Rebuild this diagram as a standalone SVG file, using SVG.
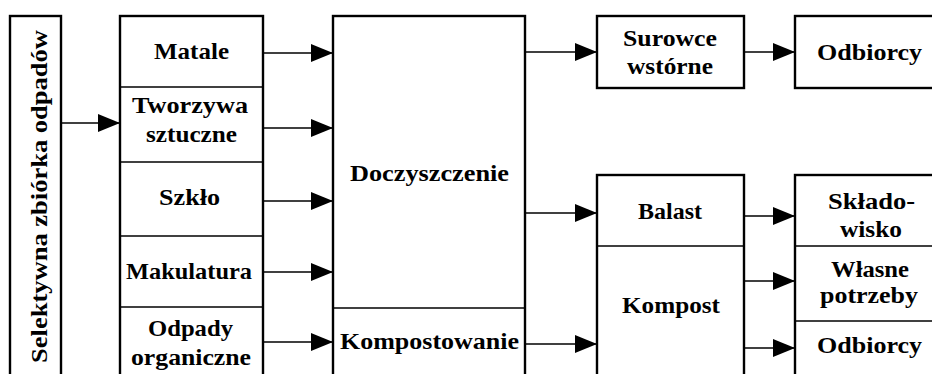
<svg xmlns="http://www.w3.org/2000/svg" width="932" height="374" viewBox="0 0 932 374">
<style>
.box{fill:#fff;stroke:#000;stroke-width:2.4}
.div{stroke:#000;stroke-width:1.6;fill:none}
.ln{stroke:#000;stroke-width:1.6;fill:none}
.t{font-family:"Liberation Serif","Times New Roman",serif;font-weight:bold;font-size:24px;fill:#000;text-anchor:middle}
</style>
<defs>
<marker id="ah" viewBox="0 0 22 18" refX="22" refY="9" markerWidth="22" markerHeight="18" markerUnits="userSpaceOnUse" orient="auto">
<path d="M0,0 L22,9 L0,18 Z" fill="#000"/>
</marker>
</defs>
<rect width="932" height="374" fill="#fff"/>

<g id="connectors">
<line class="ln" x1="61" y1="123" x2="120" y2="123" marker-end="url(#ah)"/>
<line class="ln" x1="263" y1="53" x2="333" y2="53" marker-end="url(#ah)"/>
<line class="ln" x1="263" y1="128" x2="333" y2="128" marker-end="url(#ah)"/>
<line class="ln" x1="263" y1="201" x2="333" y2="201" marker-end="url(#ah)"/>
<line class="ln" x1="263" y1="272" x2="333" y2="272" marker-end="url(#ah)"/>
<line class="ln" x1="263" y1="342" x2="333" y2="342" marker-end="url(#ah)"/>
<line class="ln" x1="525" y1="52" x2="597" y2="52" marker-end="url(#ah)"/>
<line class="ln" x1="525" y1="213" x2="597" y2="213" marker-end="url(#ah)"/>
<line class="ln" x1="525" y1="344" x2="597" y2="344" marker-end="url(#ah)"/>
<line class="ln" x1="744" y1="52" x2="795" y2="52" marker-end="url(#ah)"/>
<line class="ln" x1="744" y1="216" x2="795" y2="216" marker-end="url(#ah)"/>
<line class="ln" x1="744" y1="281" x2="795" y2="281" marker-end="url(#ah)"/>
<line class="ln" x1="744" y1="348" x2="795" y2="348" marker-end="url(#ah)"/>
</g>

<g id="selektywna">
<rect class="box" x="10" y="16" width="51" height="380"/>
<text class="t" transform="translate(47,196.5) rotate(-90)" x="0" y="0" textLength="333" lengthAdjust="spacingAndGlyphs">Selektywna zbiórka odpadów</text>
</g>

<g id="odpady-kolumna">
<rect class="box" x="120" y="16" width="143" height="380"/>
<line class="div" x1="120" y1="87" x2="263" y2="87"/>
<line class="div" x1="120" y1="162" x2="263" y2="162"/>
<line class="div" x1="120" y1="236" x2="263" y2="236"/>
<line class="div" x1="120" y1="307" x2="263" y2="307"/>
</g>
<g id="matale"><text class="t" x="191.5" y="59" textLength="75" lengthAdjust="spacingAndGlyphs">Matale</text></g>
<g id="tworzywa">
<text class="t" x="190" y="113" textLength="116" lengthAdjust="spacingAndGlyphs">Tworzywa</text>
<text class="t" x="191.5" y="142" textLength="91" lengthAdjust="spacingAndGlyphs">sztuczne</text>
</g>
<g id="szklo"><text class="t" x="189.5" y="205" textLength="61" lengthAdjust="spacingAndGlyphs">Szkło</text></g>
<g id="makulatura"><text class="t" x="189" y="279" textLength="126" lengthAdjust="spacingAndGlyphs">Makulatura</text></g>
<g id="organiczne">
<text class="t" x="190.5" y="336" textLength="85" lengthAdjust="spacingAndGlyphs">Odpady</text>
<text class="t" x="191" y="365" textLength="120" lengthAdjust="spacingAndGlyphs">organiczne</text>
</g>

<g id="doczyszczenie">
<rect class="box" x="333" y="16" width="192" height="380"/>
<line class="div" x1="333" y1="308" x2="525" y2="308"/>
<text class="t" x="429.5" y="181" textLength="159" lengthAdjust="spacingAndGlyphs">Doczyszczenie</text>
</g>
<g id="kompostowanie">
<text class="t" x="429.5" y="349" textLength="179" lengthAdjust="spacingAndGlyphs">Kompostowanie</text>
</g>

<g id="surowce">
<rect class="box" x="597" y="16" width="147" height="72"/>
<text class="t" x="670" y="46" textLength="94" lengthAdjust="spacingAndGlyphs">Surowce</text>
<text class="t" x="670" y="74" textLength="86" lengthAdjust="spacingAndGlyphs">wstórne</text>
</g>

<g id="odbiorcy1">
<rect class="box" x="795" y="16" width="150" height="72"/>
<text class="t" x="869.5" y="60" textLength="105" lengthAdjust="spacingAndGlyphs">Odbiorcy</text>
</g>

<g id="balast-kompost">
<rect class="box" x="597" y="175" width="147" height="220"/>
<line class="div" x1="597" y1="246" x2="744" y2="246"/>
</g>
<g id="balast"><text class="t" x="670" y="219" textLength="64" lengthAdjust="spacingAndGlyphs">Balast</text></g>
<g id="kompost"><text class="t" x="671" y="313" textLength="98" lengthAdjust="spacingAndGlyphs">Kompost</text></g>

<g id="odbiorcy-kolumna">
<rect class="box" x="795" y="175" width="150" height="220"/>
<line class="div" x1="795" y1="246" x2="932" y2="246"/>
<line class="div" x1="795" y1="321" x2="932" y2="321"/>
</g>
<g id="skladowisko">
<text class="t" x="871.5" y="209" textLength="87" lengthAdjust="spacingAndGlyphs">Składo-</text>
<text class="t" x="871" y="237" textLength="62" lengthAdjust="spacingAndGlyphs">wisko</text>
</g>
<g id="wlasne">
<text class="t" x="870" y="277" textLength="78" lengthAdjust="spacingAndGlyphs">Własne</text>
<text class="t" x="869" y="303" textLength="98" lengthAdjust="spacingAndGlyphs">potrzeby</text>
</g>
<g id="odbiorcy2">
<text class="t" x="869.5" y="353" textLength="105" lengthAdjust="spacingAndGlyphs">Odbiorcy</text>
</g>
</svg>
